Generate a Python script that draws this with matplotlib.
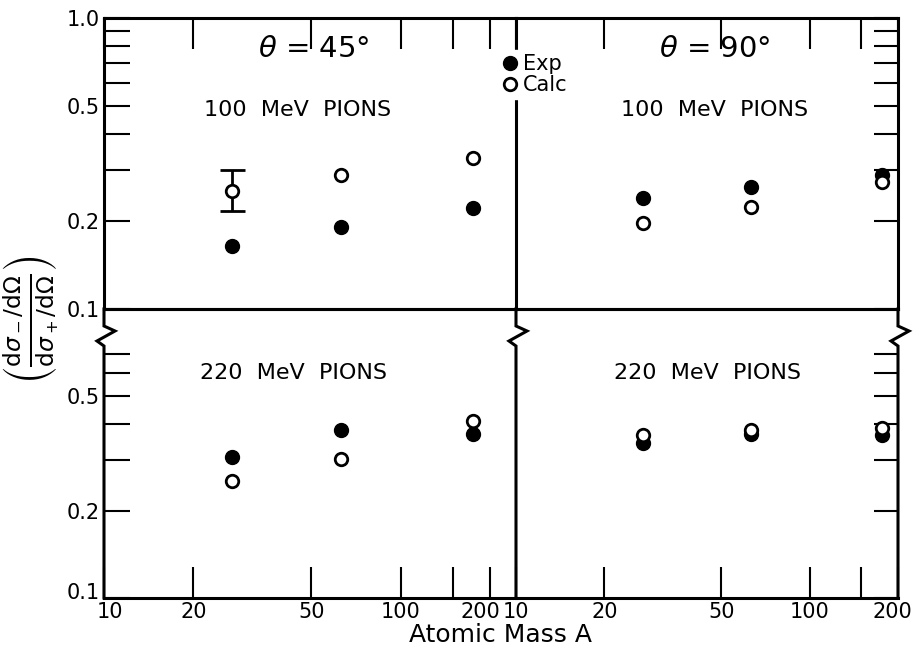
import numpy as np
import matplotlib
matplotlib.use('Agg')
import matplotlib.pyplot as plt
import matplotlib.transforms as mtransforms
from matplotlib.lines import Line2D
from matplotlib.ticker import NullLocator

# data
mass = [27, 63, 176]

exp_45_100 = [0.165, 0.191, 0.222]
calc_45_100 = [0.254, 0.288, 0.330]
err_45_100 = (0.217, 0.300)  # bar on the A=27 point

exp_90_100 = [0.240, 0.262, 0.288]
calc_90_100 = [0.198, 0.225, 0.273]

exp_45_220 = [0.307, 0.380, 0.368]
calc_45_220 = [0.255, 0.302, 0.409]

exp_90_220 = [0.344, 0.368, 0.365]
calc_90_220 = [0.365, 0.380, 0.389]

x_ticks = [10, 20, 50, 100, 150, 200]
x_labels = ['10', '20', '50', '100', '', '200']

plt.rcParams['font.family'] = ['DejaVu Sans']
plt.rcParams['mathtext.fontset'] = 'dejavusans'

W, H = 916, 647
fig = plt.figure(figsize=(W / 100, H / 100), dpi=100)

x0, xm, x1 = 104, 516, 898
y0, ym, y1 = 18, 309, 598


def box(l, t, r, b):
    return [l / W, 1 - b / H, (r - l) / W, (b - t) / H]


def nudge(lab, dx, dy):
    # shift a tick label by a few pixels
    lab.set_transform(lab.get_transform() +
                      mtransforms.ScaledTranslation(dx / 100, dy / 100, fig.dpi_scale_trans))


ax_tl = fig.add_axes(box(x0, y0, xm, ym))
ax_tr = fig.add_axes(box(xm, y0, x1, ym))
ax_bl = fig.add_axes(box(x0, ym, xm, y1))
ax_br = fig.add_axes(box(xm, ym, x1, y1))

lw = 2.2
for ax in [ax_tl, ax_tr, ax_bl, ax_br]:
    ax.set_xscale('log')
    ax.set_yscale('log')
    ax.set_ylim(0.1, 1.0)
    ax.xaxis.set_minor_locator(NullLocator())
    ax.yaxis.set_minor_locator(NullLocator())
    for s in ax.spines.values():
        s.set_linewidth(lw)
    ax.set_facecolor('none')
    ax.tick_params(direction='in', length=17, width=1.5, labelsize=15, colors='black')

ax_tl.set_xlim(10, 245)
ax_bl.set_xlim(10, 245)
ax_tr.set_xlim(10, 200)
ax_br.set_xlim(10, 200)

# x ticks: top edge for upper panels, bottom edge with labels for lower panels
for ax in [ax_tl, ax_tr]:
    ax.set_xticks(x_ticks)
    ax.xaxis.set_ticks_position('top')
    ax.tick_params(axis='x', labeltop=False, labelbottom=False, length=22)
for ax in [ax_bl, ax_br]:
    ax.set_xticks(x_ticks)
    ax.set_xticklabels(x_labels)
    ax.tick_params(axis='x', length=22, pad=3, labelsize=15)

nudge(ax_bl.get_xticklabels()[-1], -9, 0)
nudge(ax_br.get_xticklabels()[-1], -6, 0)
nudge(ax_bl.get_xticklabels()[0], 6, 0)

# y ticks
top_yt = [0.1, 0.2, 0.3, 0.4, 0.5, 0.6, 0.7, 0.8, 0.9, 1.0]
top_yl = ['0.1', '0.2', '', '', '0.5', '', '', '', '', '1.0']
bot_yt = [0.1, 0.2, 0.3, 0.4, 0.5, 0.6, 0.7]
bot_yl = ['0.1', '0.2', '', '', '0.5', '', '']

ax_tl.set_yticks(top_yt)
ax_tl.set_yticklabels(top_yl)
ax_bl.set_yticks(bot_yt)
ax_bl.set_yticklabels(bot_yl)
ax_tr.set_yticks(top_yt)
ax_tr.yaxis.set_ticks_position('right')
ax_tr.tick_params(axis='y', labelright=False, labelleft=False)
ax_br.set_yticks(bot_yt)
ax_br.yaxis.set_ticks_position('right')
ax_br.tick_params(axis='y', labelright=False, labelleft=False)
for ax in [ax_tl, ax_bl]:
    ax.tick_params(axis='y', length=19, pad=3)

nudge(ax_bl.get_yticklabels()[0], 0, 7)

# lower panels: vertical lines carry a zigzag break just below 0.1
ax_bl.spines['left'].set_visible(False)
ax_bl.spines['right'].set_visible(False)
ax_br.spines['left'].set_visible(False)
ax_br.spines['right'].set_visible(False)
ax_tr.spines['left'].set_visible(False)


def zigzag(ax, xpos, wpx, hpx=y1 - ym):
    dy = [0, 17, 22, 32, 37, hpx]
    dx = [0, 0, 11, -7, 0, 0]
    xs = [xpos + d / wpx for d in dx]
    ys = [1 - d / hpx for d in dy]
    ax.plot(xs, ys, color='black', lw=lw, transform=ax.transAxes,
            clip_on=False, solid_joinstyle='miter', zorder=5)


zigzag(ax_bl, 0, xm - x0)
zigzag(ax_bl, 1, xm - x0)
zigzag(ax_br, 1, x1 - xm)

ms_f = 10
ms_o = 9


def points(ax, e, c):
    ax.plot(mass, e, 'o', color='black', ms=ms_f, zorder=3, clip_on=False)
    ax.plot(mass, c, 'o', mfc='white', mec='black', mew=2, ms=ms_o,
            zorder=4, clip_on=False)


points(ax_tl, exp_45_100, calc_45_100)
points(ax_tr, exp_90_100, calc_90_100)
points(ax_bl, exp_45_220, calc_45_220)
points(ax_br, exp_90_220, calc_90_220)

ax_tl.errorbar([mass[0]], [calc_45_100[0]],
               yerr=[[calc_45_100[0] - err_45_100[0]], [err_45_100[1] - calc_45_100[0]]],
               fmt='none', ecolor='black', elinewidth=2, capsize=9, capthick=2, zorder=2)

# annotations
ax_tl.text(0.51, 0.895, r'$\theta$ = 45°', transform=ax_tl.transAxes,
           ha='center', va='center', fontsize=21)
ax_tr.text(0.52, 0.895, r'$\theta$ = 90°', transform=ax_tr.transAxes,
           ha='center', va='center', fontsize=21)
ax_tl.text(0.47, 0.685, '100  MeV  PIONS', transform=ax_tl.transAxes,
           ha='center', va='center', fontsize=16)
ax_tr.text(0.52, 0.685, '100  MeV  PIONS', transform=ax_tr.transAxes,
           ha='center', va='center', fontsize=16)
ax_bl.text(0.46, 0.78, '220  MeV  PIONS', transform=ax_bl.transAxes,
           ha='center', va='center', fontsize=16)
ax_br.text(0.5, 0.78, '220  MeV  PIONS', transform=ax_br.transAxes,
           ha='center', va='center', fontsize=16)

handles = [
    Line2D([], [], marker='o', ls='none', color='black', ms=ms_f),
    Line2D([], [], marker='o', ls='none', mfc='white', mec='black', mew=2, ms=ms_o),
]
leg = fig.legend(handles, ['Exp', 'Calc'], loc='upper left',
                 bbox_to_anchor=(500 / W, 1 - 50 / H), frameon=True,
                 fontsize=15, handlelength=0.6, handletextpad=0.3,
                 labelspacing=0.05, borderpad=0.2, borderaxespad=0)
leg.get_frame().set_facecolor('white')
leg.get_frame().set_edgecolor('white')
leg.get_frame().set_alpha(1)

fig.text(500 / W, 1 - 635 / H, 'Atomic Mass A', ha='center', va='center', fontsize=18)
fig.text(30 / W, 1 - 320 / H,
         r'$\left(\frac{\mathrm{d}\sigma_-/\mathrm{d}\Omega}{\mathrm{d}\sigma_+/\mathrm{d}\Omega}\right)$',
         rotation=90, ha='center', va='center', fontsize=24)

fig.savefig('out.png', dpi=100, facecolor='white')
